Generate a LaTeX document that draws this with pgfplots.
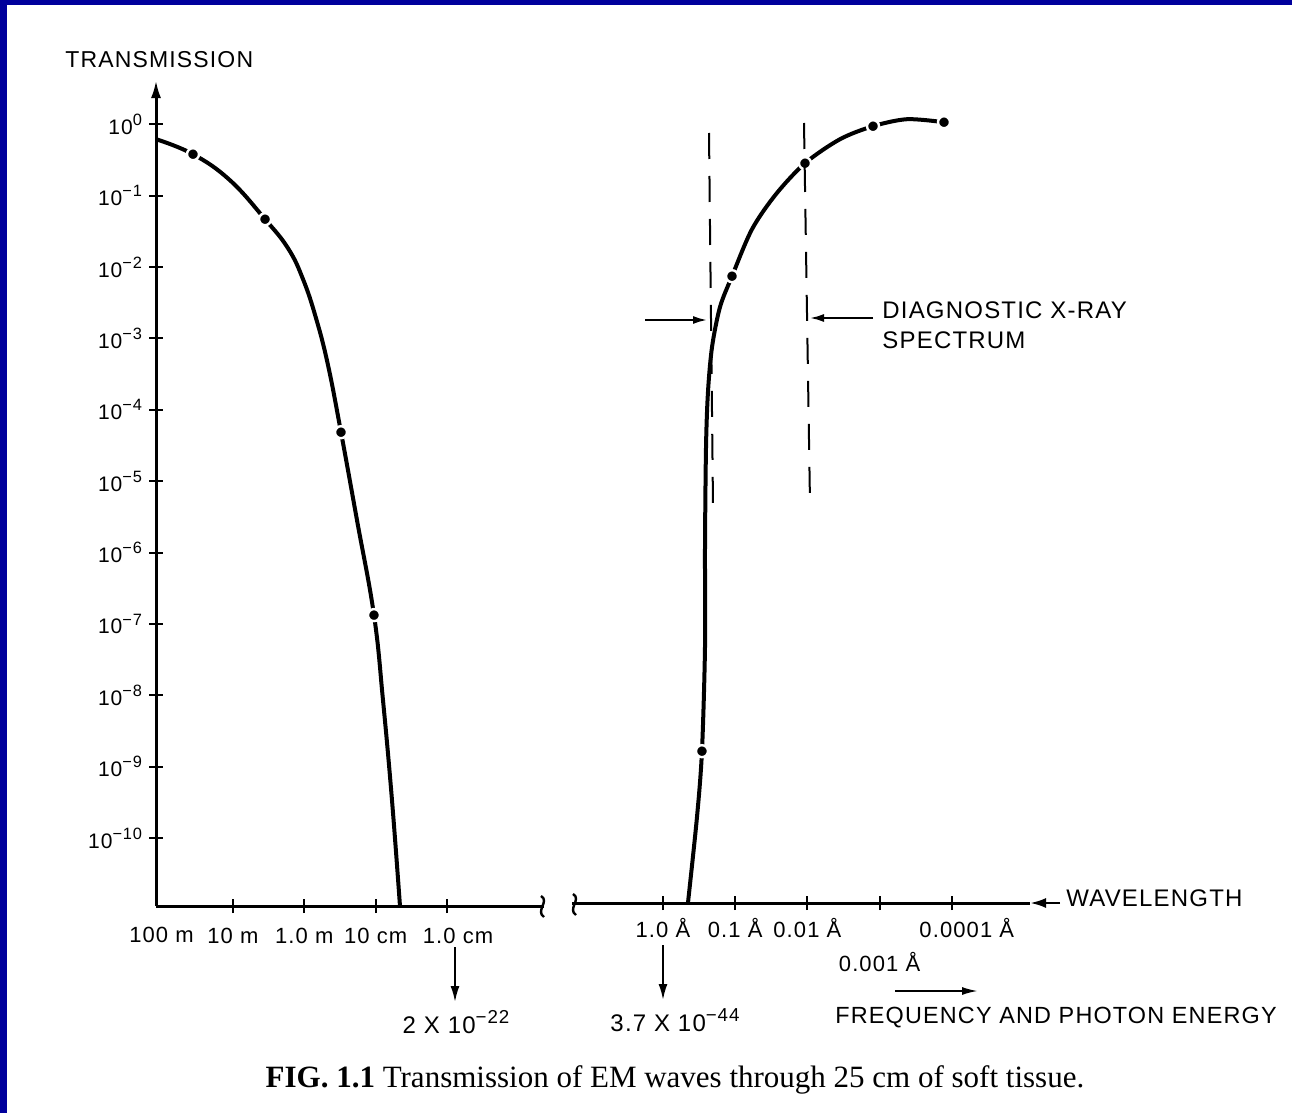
\documentclass[border=0pt]{standalone}
\usepackage{pgfplots}
\pgfplotsset{compat=1.18}
\usepackage{graphicx}
\usepackage{fontspec}
\setmainfont{Liberation Sans}[LetterSpace=5]
\newfontfamily\capfont{Liberation Serif}
\usetikzlibrary{arrows.meta}
\definecolor{frameblue}{RGB}{0,0,156}
\newcommand\sups[1]{\raisebox{0.42em}{\scalebox{0.78}{#1}}}

\begin{document}
\begin{tikzpicture}
\begin{scope}[x=0.5pt,y=-0.5pt]
\fill[white] (0,0) rectangle (1292,1113);
\fill[frameblue] (0,0) rectangle (1292,5);
\fill[frameblue] (0,0) rectangle (7,1113);
\end{scope}

% ---------------- left panel: radio waves ----------------
\begin{axis}[at={(78pt,-453pt)}, anchor=south west,
  scale only axis, width=194pt, height=413pt,
  ymode=log, ymin=1.12e-11, ymax=4.16,
  xmin=-0.077, xmax=5.357,
  tick align=inside, major tick length=7pt, minor tick length=0pt,
  every tick/.style={black, line width=1pt},
  tick label style={font=\fontsize{11}{13}\selectfont},
  clip=false,
  axis x line=bottom, axis y line=left,
  x axis line style={-, line width=1.5pt},
  y axis line style={-{Latex[length=9pt,width=5pt]}, line width=1.5pt},
  xtick={1,2,3,4}, xticklabels={10 m, 1.0 m, 10 cm, \hspace{11pt}1.0 cm},
  extra x ticks={0}, extra x tick labels={100 m},
  extra x tick style={major tick length=0pt, xticklabel style={yshift=-3pt}},
  xticklabel style={yshift=-4pt},
  ytick={1,1e-1,1e-2,1e-3,1e-4,1e-5,1e-6,1e-7,1e-8,1e-9,1e-10},
  yticklabel style={font=\fontsize{10.5}{12}\selectfont},
  yticklabels={10\sups{0},10\sups{−1},10\sups{−2},10\sups{−3},10\sups{−4},10\sups{−5},10\sups{−6},10\sups{−7},10\sups{−8},10\sups{−9},10\sups{−10}},
]
\addplot[black, line width=2pt, smooth, tension=0.7] coordinates {
(-0.077,6.17e-1) (0.441,3.80e-1) (0.959,1.64e-1) (1.450,4.67e-2)
(1.772,1.83e-2) (1.982,6.75e-3) (2.164,1.92e-3) (2.332,4.22e-4)
(2.514,4.85e-5) (2.738,2.84e-6) (2.976,1.33e-7) (3.102,8.57e-9)
(3.228,3.40e-10) (3.340,1.12e-11)};
\addplot[only marks, mark=*, mark size=3pt,
  mark options={fill=black, draw=white, line width=1.2pt}] coordinates {
(0.441,3.80e-1) (1.450,4.67e-2) (2.514,4.85e-5) (2.976,1.33e-7)};
\end{axis}

% ---------------- right panel: X-rays ----------------
\begin{axis}[at={(286pt,-451.5pt)}, anchor=south west,
  scale only axis, width=229pt, height=413pt,
  ymode=log, ymin=1.12e-11, ymax=4.16,
  xmin=-1.260, xmax=5.083,
  tick align=inside, major tick length=7pt, minor tick length=0pt,
  every tick/.style={black, line width=1pt},
  tick label style={font=\fontsize{11}{13}\selectfont},
  clip=false,
  axis x line=bottom, axis y line=none, ytick=\empty,
  x axis line style={-, line width=1.5pt},
  xtick={0,1,2,4}, xticklabels={1.0 Å, 0.1 Å, 0.01 Å, \hspace{15pt}0.0001 Å},
  extra x ticks={3}, extra x tick labels={0.001 Å},
  extra x tick style={xticklabel style={yshift=-17pt}},
  xticklabel style={yshift=-0.5pt},
]
\addplot[black, line width=2pt, smooth] coordinates {
(0.346,1.12e-11) (0.471,1.79e-10) (0.540,1.50e-9) (0.582,4.30e-8)
(0.582,1.08e-6) (0.596,2.72e-5) (0.623,1.60e-4) (0.679,6.84e-4)
(0.789,2.48e-3) (0.956,6.75e-3) (1.233,3.07e-2) (1.565,9.51e-2)
(1.967,0.258) (2.452,0.560) (2.909,0.851) (3.380,1.067) (3.892,0.968)};
\addplot[only marks, mark=*, mark size=3pt,
  mark options={fill=black, draw=white, line width=1.2pt}] coordinates {
(0.540,1.50e-9) (0.956,6.75e-3) (1.967,0.258) (2.909,0.851) (3.892,0.968)};
\end{axis}

\begin{scope}[x=0.5pt,y=-0.5pt]
% axis breaks
\draw[line width=1.2pt] (541,896) .. controls (550,901) and (535,911) .. (544,917);
\draw[line width=1.2pt] (573,894) .. controls (582,899) and (567,909) .. (576,915);

% wavelength arrow
\draw[-{Latex[length=8pt,width=5pt]}, line width=1.3pt] (1060,903) -- (1030,903);
\node[anchor=west, inner sep=0pt, font=\fontsize{12}{14}\selectfont] at (1066,898) {WAVELENGTH};

% y axis title
\node[anchor=west, inner sep=0pt, font=\fontsize{11.5}{13}\selectfont] at (65,60) {TRANSMISSION};

% diagnostic spectrum
\draw[line width=1pt, dash pattern=on 13pt off 8.5pt] (709,133) -- (713,505);
\draw[line width=1pt, dash pattern=on 13pt off 8.5pt] (804,123) -- (810,503);
\draw[-{Latex[length=7pt,width=4pt]}, line width=1pt] (645,320) -- (707,320);
\draw[-{Latex[length=7pt,width=4pt]}, line width=1pt] (873,318) -- (810,318);
\node[anchor=west, align=left, inner sep=0pt, font=\fontsize{12}{15}\selectfont] at (882,325) {DIAGNOSTIC X-RAY\\SPECTRUM};

% transmissions beyond the axis
\draw[-{Latex[length=8pt,width=4.5pt]}, line width=1pt] (455,947) -- (455,1002);
\node[font=\fontsize{12}{14}\selectfont, inner sep=0pt] at (456,1022) {2 X 10\sups{−22}};
\draw[-{Latex[length=8pt,width=4.5pt]}, line width=1pt] (663,945) -- (663,1000);
\node[font=\fontsize{12}{14}\selectfont, inner sep=0pt] at (675,1020) {3.7 X 10\sups{−44}};

% frequency arrow
\draw[-{Latex[length=8pt,width=4pt]}, line width=1pt] (895,991) -- (978,991);
\node[anchor=west, inner sep=0pt, font=\fontsize{11.7}{14}\selectfont] at (835,1018) {FREQUENCY AND PHOTON ENERGY};

% caption
\node[inner sep=0pt] at (675,1080) {\capfont\fontsize{15.5}{18}\selectfont\textbf{FIG. 1.1} Transmission of EM waves through 25 cm of soft tissue.};
\end{scope}
\end{tikzpicture}
\end{document}
